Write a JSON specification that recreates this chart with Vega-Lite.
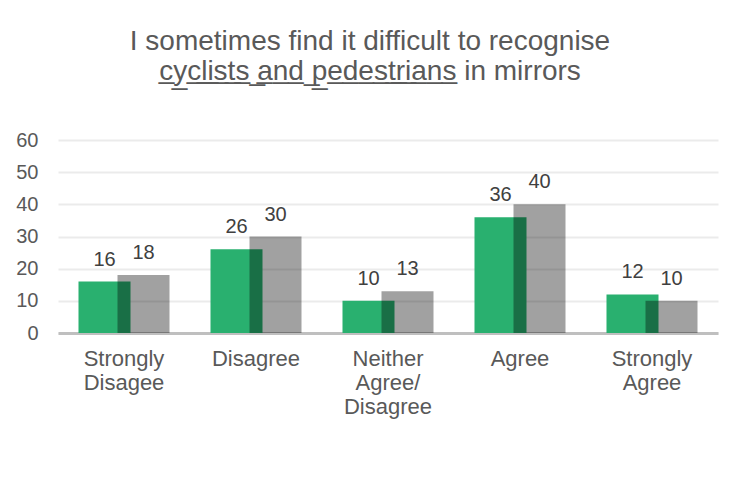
{
  "$schema": "https://vega.github.io/schema/vega-lite/v6.json",
  "autosize": "none",
  "width": 660,
  "height": 193,
  "padding": {"left": 58, "top": 140, "right": 21, "bottom": 144},
  "background": "#ffffff",
  "title": {
    "text": ["I sometimes find it difficult to recognise", "c̲y̲c̲l̲i̲s̲t̲s̲ ̲a̲n̲d̲ ̲p̲e̲d̲e̲s̲t̲r̲i̲a̲n̲s̲ in mirrors"],
    "font": "Liberation Sans",
    "fontSize": 28,
    "fontWeight": "normal",
    "color": "#595959",
    "lineHeight": 30,
    "anchor": "middle",
    "dx": -18,
    "offset": 44
  },
  "data": {
    "values": [
      {"category": "Strongly Disagee", "series": "A", "value": 16},
      {"category": "Strongly Disagee", "series": "B", "value": 18},
      {"category": "Disagree", "series": "A", "value": 26},
      {"category": "Disagree", "series": "B", "value": 30},
      {"category": "Neither Agree/Disagree", "series": "A", "value": 10},
      {"category": "Neither Agree/Disagree", "series": "B", "value": 13},
      {"category": "Agree", "series": "A", "value": 36},
      {"category": "Agree", "series": "B", "value": 40},
      {"category": "Strongly Agree", "series": "A", "value": 12},
      {"category": "Strongly Agree", "series": "B", "value": 10}
    ]
  },
  "encoding": {
    "x": {
      "field": "category",
      "type": "nominal",
      "sort": null,
      "scale": {"paddingInner": 0, "paddingOuter": 0},
      "axis": {
        "title": null,
        "labelAngle": 0,
        "ticks": false,
        "domainColor": "#bfbfbf",
        "domainWidth": 3,
        "labelFont": "Liberation Sans",
        "labelFontSize": 22,
        "labelColor": "#595959",
        "labelPadding": 15,
        "labelLineHeight": 24,
        "labelBaseline": "top",
        "labelExpr": "split(replace(datum.label, '/', '/ '), ' ')"
      }
    },
    "y": {
      "field": "value",
      "type": "quantitative",
      "scale": {"domain": [0, 60]},
      "axis": {
        "title": null,
        "values": [0, 10, 20, 30, 40, 50, 60],
        "domain": false,
        "ticks": false,
        "gridColor": "#ebebeb",
        "gridWidth": 2,
        "labelFont": "Liberation Sans",
        "labelFontSize": 20,
        "labelColor": "#595959",
        "labelPadding": 20
      }
    }
  },
  "layer": [
    {
      "transform": [{"filter": "datum.series == 'A'"}],
      "mark": {"type": "bar", "width": {"band": 0.394}, "xOffset": -19.5, "fill": "#29b06f"}
    },
    {
      "transform": [{"filter": "datum.series == 'B'"}],
      "mark": {"type": "bar", "width": {"band": 0.394}, "xOffset": 19.5, "fill": "#000000", "fillOpacity": 0.37}
    },
    {
      "transform": [{"filter": "datum.series == 'A'"}],
      "mark": {"type": "text", "xOffset": -19.5, "dy": -12, "baseline": "bottom", "font": "Liberation Sans", "fontSize": 20, "fill": "#404040"},
      "encoding": {"text": {"field": "value", "type": "quantitative"}}
    },
    {
      "transform": [{"filter": "datum.series == 'B'"}],
      "mark": {"type": "text", "xOffset": 19.5, "dy": -12, "baseline": "bottom", "font": "Liberation Sans", "fontSize": 20, "fill": "#404040"},
      "encoding": {"text": {"field": "value", "type": "quantitative"}}
    }
  ],
  "config": {"view": {"stroke": null}}
}
